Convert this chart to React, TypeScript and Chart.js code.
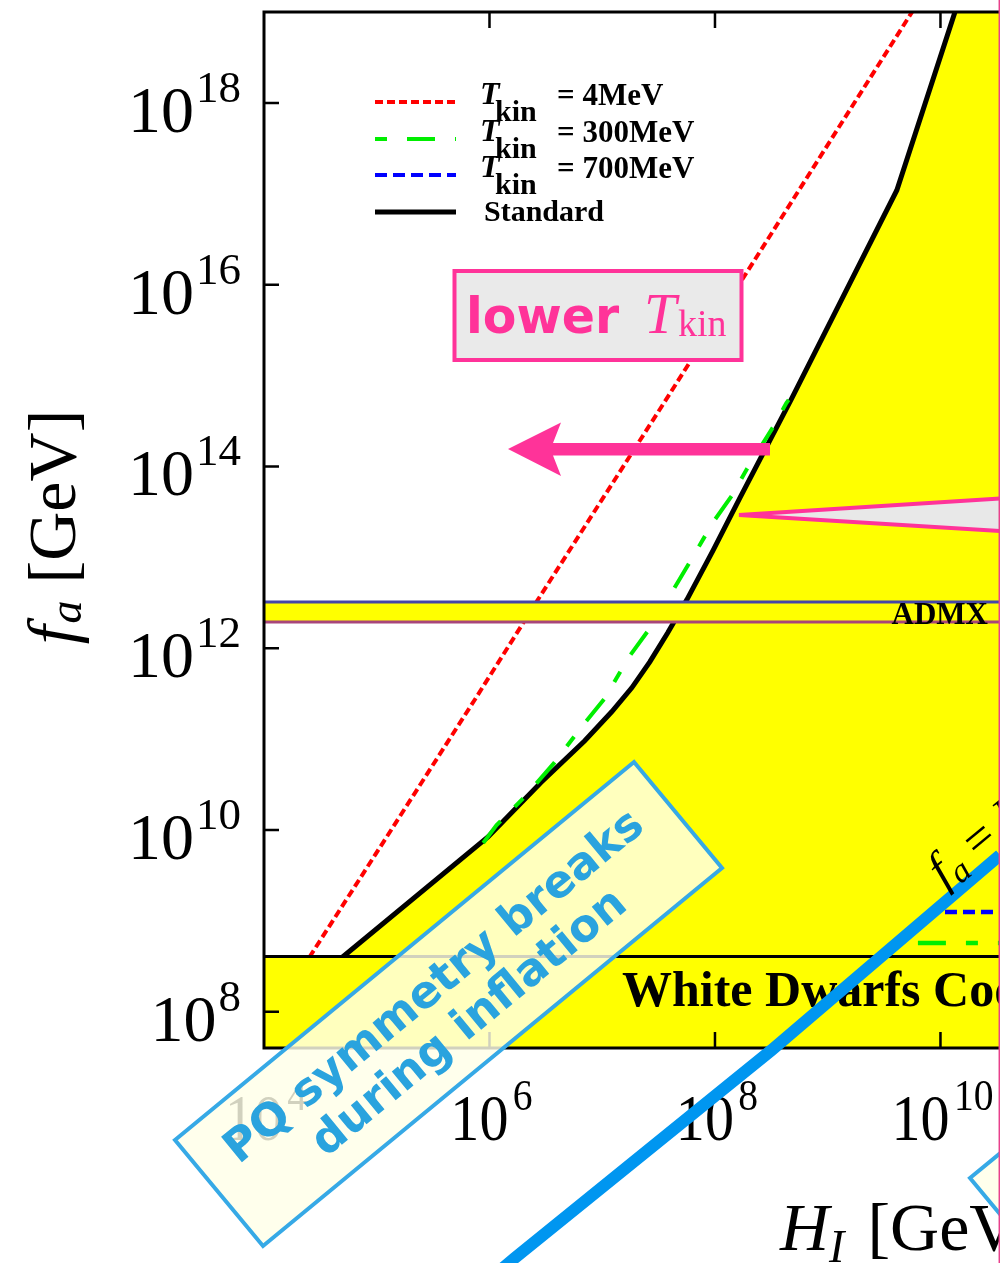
import React, { useEffect, useRef } from "react";
import { Chart, registerables } from "chart.js";

Chart.register(...registerables);

// ---------- data (log10 values) ----------
const xRangeExp = [4, 10.528]; // H_I axis range
const yRangeExp = [7.601, 19.0]; // f_a axis range
const xTickExps = [4, 6, 8, 10];
const yTickExps = [8, 10, 12, 14, 16, 18];

// Standard (black solid) boundary
const standardLogHI = [4.697, 5.989, 6.454, 6.845, 7.084, 7.262, 7.422, 7.581, 7.75, 7.981, 8.22, 8.442, 8.673, 9.613, 10.128, 10.221, 11.0];
const standardLogFa = [8.602, 9.925, 10.519, 10.981, 11.3, 11.564, 11.85, 12.169, 12.532, 13.071, 13.651, 14.179, 14.729, 17.039, 18.998, 19.35, 19.35];

// T_kin = 4 MeV (red dotted)
const red4LogHI = [4.0, 4.404, 5.868, 6.427, 7.563, 9.746, 9.82];
const red4LogFa = [7.82, 8.602, 11.43, 12.529, 14.729, 18.997, 19.24];

// T_kin = 300 MeV (green dash-dot)
const green300LogHI = [5.944, 6.063, 6.312, 6.574, 6.831, 7.026, 7.231, 7.399, 7.63, 7.772, 7.985, 8.154, 8.278, 8.527, 8.633, 8.67];
const green300LogFa = [9.857, 10.053, 10.364, 10.738, 11.156, 11.453, 11.893, 12.179, 12.641, 12.938, 13.389, 13.686, 13.961, 14.456, 14.698, 14.76];
// right-hand horizontal pieces
const green300RightLogHI = [9.8, 10.7];
const green300RightLogFa = [8.756, 8.756];
const blue700RightLogHI = [10.04, 10.7];
const blue700RightLogFa = [9.097, 9.097];

// f_a = H_I / 2pi line
const faLineLogHI = [6.1, 6.223, 8.5, 10.528, 11.0];
const faLineLogFa = [5.16, 5.29, 7.576, 9.724, 10.2];

// bands
const admxUpperExp = 12.507;
const admxLowerExp = 12.287;
const wdUpperExp = 8.607;

const legendLabels = ["4MeV", "300MeV", "700MeV"];
const WD_LABEL = "White Dwarfs Cooling";
const ADMX_LABEL = "ADMX";
const pqLines = ["PQ symmetry breaks", "during inflation"];

// ---------- styling ----------
const SERIF = '"Liberation Serif", "Times New Roman", Times, serif';
const SANS = '"DejaVu Sans", Verdana, sans-serif';
const PINK = "#FF3399";
const YELLOW = "#FFFF00";
const PQ_BLUE = "#36A9E6";
const PQ_TEXT = "#2AA3DE";
const RED_DASH = [8, 4];
const GREEN_DASH = [28, 20, 12, 20];
const BLUE_DASH = [12, 6];

const pts = (xs: number[], ys: number[]) => xs.map((e, i) => ({ x: Math.pow(10, e), y: Math.pow(10, ys[i]) }));

type Run = { t: string; font: string; dy?: number; gap?: number };

function runsWidth(ctx: CanvasRenderingContext2D, runs: Run[]) {
  let w = 0;
  for (const r of runs) {
    ctx.font = r.font;
    w += ctx.measureText(r.t).width + (r.gap || 0);
  }
  return w;
}

function drawRuns(ctx: CanvasRenderingContext2D, runs: Run[], x: number, y: number, color: string) {
  let cx = x;
  ctx.fillStyle = color;
  ctx.textAlign = "left";
  ctx.textBaseline = "alphabetic";
  for (const r of runs) {
    ctx.font = r.font;
    cx += r.gap || 0;
    ctx.fillText(r.t, cx, y + (r.dy || 0));
    cx += ctx.measureText(r.t).width;
  }
}

function drawBase(chart: any) {
  const { ctx, chartArea: ca, scales } = chart;
  const xs = scales.x;
  const ys = scales.y;
  ctx.save();

  // band labels
  ctx.fillStyle = "#000";
  ctx.textBaseline = "alphabetic";
  ctx.textAlign = "left";
  ctx.font = `bold 50px ${SERIF}`;
  ctx.fillText(WD_LABEL, 622, 1006);
  ctx.textAlign = "right";
  ctx.font = `bold 31px ${SERIF}`;
  ctx.fillText(ADMX_LABEL, 988, 624);
  ctx.textAlign = "left";

  // frame
  ctx.strokeStyle = "#000";
  ctx.lineWidth = 3;
  ctx.beginPath();
  ctx.moveTo(ca.left, ca.top);
  ctx.lineTo(1000, ca.top);
  ctx.moveTo(ca.left, ca.bottom);
  ctx.lineTo(1000, ca.bottom);
  ctx.moveTo(ca.left, ca.top - 1.5);
  ctx.lineTo(ca.left, ca.bottom + 1.5);
  ctx.stroke();

  // inward ticks
  ctx.lineWidth = 2.5;
  ctx.beginPath();
  for (const e of yTickExps) {
    const py = ys.getPixelForValue(Math.pow(10, e));
    ctx.moveTo(ca.left, py);
    ctx.lineTo(ca.left + 15, py);
  }
  for (const e of xTickExps) {
    const px = xs.getPixelForValue(Math.pow(10, e));
    if (px <= ca.left + 2) continue;
    ctx.moveTo(px, ca.top);
    ctx.lineTo(px, ca.top + 16);
    ctx.moveTo(px, ca.bottom);
    ctx.lineTo(px, ca.bottom - 16);
  }
  ctx.stroke();

  // y tick labels
  for (const e of yTickExps) {
    const py = ys.getPixelForValue(Math.pow(10, e));
    const runs: Run[] = [
      { t: "10", font: `66px ${SERIF}` },
      { t: String(e), font: `45px ${SERIF}`, dy: -30, gap: 2 },
    ];
    const w = runsWidth(ctx, runs);
    drawRuns(ctx, runs, 241 - w, py + 29, "#000");
  }
  // x tick labels
  for (const e of xTickExps) {
    const px = xs.getPixelForValue(Math.pow(10, e));
    ctx.save();
    ctx.translate(px + 2, 1140);
    ctx.scale(0.88, 1);
    const runs: Run[] = [
      { t: "10", font: `66px ${SERIF}` },
      { t: String(e), font: `45px ${SERIF}`, dy: -30, gap: 5 },
    ];
    const w = runsWidth(ctx, runs);
    drawRuns(ctx, runs, -w / 2, 0, "#000");
    ctx.restore();
  }

  // axis titles
  ctx.save();
  ctx.translate(75, 527);
  ctx.rotate(-Math.PI / 2);
  const yTitle: Run[] = [
    { t: "f", font: `italic 68px ${SERIF}` },
    { t: "a", font: `italic 46px ${SERIF}`, dy: 6, gap: 2 },
    { t: " [GeV]", font: `68px ${SERIF}` },
  ];
  drawRuns(ctx, yTitle, -runsWidth(ctx, yTitle) / 2, 0, "#000");
  ctx.restore();

  const xTitle: Run[] = [
    { t: "H", font: `italic 68px ${SERIF}` },
    { t: "I", font: `italic 46px ${SERIF}`, dy: 12 },
    { t: " [GeV]", font: `68px ${SERIF}`, gap: 6 },
  ];
  drawRuns(ctx, xTitle, 780, 1250, "#000");

  // legend
  const legendY = [102, 139, 175, 212];
  const sx0 = 375;
  const sx1 = 456;
  const styles = [
    { c: "#FF0000", d: RED_DASH, off: 0, w: 4 },
    { c: "#00EE00", d: GREEN_DASH, off: 48, w: 4 },
    { c: "#0000FF", d: BLUE_DASH, off: 0, w: 4 },
    { c: "#000000", d: [], off: 0, w: 5 },
  ];
  styles.forEach((s, i) => {
    ctx.strokeStyle = s.c;
    ctx.lineWidth = s.w;
    ctx.setLineDash(s.d);
    ctx.lineDashOffset = s.off;
    ctx.beginPath();
    ctx.moveTo(sx0, legendY[i]);
    ctx.lineTo(sx1, legendY[i]);
    ctx.stroke();
  });
  ctx.setLineDash([]);
  ctx.lineDashOffset = 0;
  const rowBase = [105, 141.7, 178.3];
  legendLabels.forEach((lab, i) => {
    const b = rowBase[i];
    ctx.fillStyle = "#000";
    ctx.font = `italic bold 32px ${SERIF}`;
    ctx.fillText("T", 480, b - 1);
    ctx.font = `bold 30px ${SERIF}`;
    ctx.fillText("kin", 495, b + 16);
    ctx.font = `bold 31px ${SERIF}`;
    ctx.fillText("= " + lab, 557, b);
  });
  ctx.font = `bold 30px ${SERIF}`;
  ctx.fillText("Standard", 484, 221);

  // "lower T_kin" box
  ctx.fillStyle = "#EAEAEA";
  ctx.fillRect(454.5, 271, 287, 89);
  ctx.strokeStyle = PINK;
  ctx.lineWidth = 4;
  ctx.strokeRect(454.5, 271, 287, 89);
  ctx.fillStyle = PINK;
  ctx.font = `bold 49px ${SANS}`;
  ctx.fillText("lower", 466, 333);
  ctx.font = `italic 58px ${SERIF}`;
  ctx.fillText("T", 644, 333);
  ctx.font = `38px ${SERIF}`;
  ctx.fillText("kin", 678, 336);

  // arrow
  ctx.fillStyle = PINK;
  ctx.beginPath();
  ctx.moveTo(508, 449);
  ctx.lineTo(561, 422.5);
  ctx.lineTo(553, 443);
  ctx.lineTo(770, 443);
  ctx.lineTo(770, 455.5);
  ctx.lineTo(553, 455.5);
  ctx.lineTo(561, 476);
  ctx.closePath();
  ctx.fill();

  // callout wedge
  ctx.beginPath();
  ctx.moveTo(739, 515);
  ctx.lineTo(1010, 497.9);
  ctx.lineTo(1010, 531.6);
  ctx.closePath();
  ctx.fillStyle = "#E8E8E8";
  ctx.fill();
  ctx.lineJoin = "bevel";
  ctx.strokeStyle = PINK;
  ctx.lineWidth = 4;
  ctx.stroke();

  ctx.restore();
}

function rotatedBox(ctx: CanvasRenderingContext2D, corner: number[], along: number[], across: number[]) {
  ctx.beginPath();
  ctx.moveTo(corner[0], corner[1]);
  ctx.lineTo(corner[0] + along[0], corner[1] + along[1]);
  ctx.lineTo(corner[0] + along[0] + across[0], corner[1] + along[1] + across[1]);
  ctx.lineTo(corner[0] + across[0], corner[1] + across[1]);
  ctx.closePath();
  ctx.fillStyle = "rgba(255,255,232,0.82)";
  ctx.fill();
  ctx.strokeStyle = PQ_BLUE;
  ctx.lineWidth = 4;
  ctx.lineJoin = "miter";
  ctx.stroke();
}

function drawTop(chart: any) {
  const { ctx, scales } = chart;
  const xs = scales.x;
  const ys = scales.y;
  ctx.save();

  // PQ box
  const along = [459, -378];
  const across = [88, 106];
  rotatedBox(ctx, [175, 1140], along, across);
  const ang = Math.atan2(along[1], along[0]);
  const L = Math.hypot(along[0], along[1]);
  const S = Math.hypot(across[0], across[1]);
  const cx = 175 + along[0] / 2 + across[0] / 2;
  const cy = 1140 + along[1] / 2 + across[1] / 2;
  const n = [across[0] / S, across[1] / S];
  const u = [along[0] / L, along[1] / L];
  const offs = [-21, 29];
  const shift = [0, 4];
  ctx.fillStyle = PQ_TEXT;
  ctx.font = `bold 45px ${SANS}`;
  ctx.textAlign = "center";
  ctx.textBaseline = "middle";
  pqLines.forEach((line, i) => {
    ctx.save();
    ctx.translate(cx + n[0] * offs[i] + u[0] * shift[i], cy + n[1] * offs[i] + u[1] * shift[i]);
    ctx.rotate(ang);
    ctx.fillText(line, 0, 0);
    ctx.restore();
  });

  // second box (bottom right, mostly outside)
  rotatedBox(ctx, [970, 1178], along, across);

  // f_a = H_I / 2pi label along the blue line
  const p1x = xs.getPixelForValue(Math.pow(10, faLineLogHI[1]));
  const p1y = ys.getPixelForValue(Math.pow(10, faLineLogFa[1]));
  const p2x = xs.getPixelForValue(Math.pow(10, faLineLogHI[3]));
  const p2y = ys.getPixelForValue(Math.pow(10, faLineLogFa[3]));
  const a2 = Math.atan2(p2y - p1y, p2x - p1x);
  ctx.save();
  ctx.translate(944, 888);
  ctx.rotate(a2);
  const fr: Run[] = [
    { t: "f", font: `italic 50px ${SERIF}` },
    { t: "a", font: `italic 34px ${SERIF}`, dy: 8, gap: 1 },
    { t: " = ", font: `50px ${SERIF}` },
    { t: "H", font: `italic 50px ${SERIF}` },
    { t: "I", font: `italic 34px ${SERIF}`, dy: 8 },
    { t: "/2\u03C0", font: `50px ${SERIF}` },
  ];
  drawRuns(ctx, fr, 0, 0, "#000");
  ctx.restore();

  // pink edge line at right border
  ctx.strokeStyle = "#E8408C";
  ctx.lineWidth = 1.5;
  ctx.beginPath();
  ctx.moveTo(999.3, 0);
  ctx.lineTo(999.3, 1263);
  ctx.stroke();

  ctx.restore();
}

const overlayPlugin = {
  id: "overlay",
  afterDatasetDraw(chart: any, args: any) {
    if (chart.data.datasets[args.index].label !== WD_LABEL) return;
    drawBase(chart);
  },
  afterDatasetsDraw(chart: any) {
    drawTop(chart);
  },
};

export default function App() {
  const ref = useRef<HTMLCanvasElement>(null);
  useEffect(() => {
    const canvas = ref.current;
    if (!canvas) return;
    const chart = new Chart(canvas, {
      type: "scatter",
      data: {
        datasets: [
          {
            label: "Standard",
            data: pts(standardLogHI, standardLogFa),
            showLine: true,
            borderColor: "#000",
            borderWidth: 5,
            backgroundColor: YELLOW,
            fill: "start",
            order: 10,
          },
          {
            label: "T_kin = 4MeV",
            data: pts(red4LogHI, red4LogFa),
            showLine: true,
            borderColor: "#FF0000",
            borderWidth: 4,
            borderDash: RED_DASH,
            fill: false,
            order: 9,
          },
          {
            label: "T_kin = 300MeV",
            data: pts(green300LogHI, green300LogFa),
            showLine: true,
            borderColor: "#00EE00",
            borderWidth: 4,
            borderDash: GREEN_DASH,
            fill: false,
            order: 8,
          },
          {
            label: "T_kin = 300MeV (high H_I)",
            data: pts(green300RightLogHI, green300RightLogFa),
            showLine: true,
            borderColor: "#00EE00",
            borderWidth: 4.5,
            borderDash: GREEN_DASH,
            fill: false,
            order: 8,
          },
          {
            label: "T_kin = 700MeV (high H_I)",
            data: pts(blue700RightLogHI, blue700RightLogFa),
            showLine: true,
            borderColor: "#0000FF",
            borderWidth: 4.5,
            borderDash: BLUE_DASH,
            fill: false,
            order: 8,
          },
          {
            label: "ADMX upper",
            data: pts([xRangeExp[0] - 1, xRangeExp[1] + 1], [admxUpperExp, admxUpperExp]),
            showLine: true,
            borderColor: "#4646A8",
            borderWidth: 3,
            backgroundColor: YELLOW,
            fill: { value: Math.pow(10, admxLowerExp) },
            order: 7,
          },
          {
            label: "ADMX lower",
            data: pts([xRangeExp[0] - 1, xRangeExp[1] + 1], [admxLowerExp, admxLowerExp]),
            showLine: true,
            borderColor: "#A8467A",
            borderWidth: 3,
            fill: false,
            order: 6.9,
          },
          {
            label: WD_LABEL,
            data: pts([xRangeExp[0] - 1, xRangeExp[1] + 1], [wdUpperExp, wdUpperExp]),
            showLine: true,
            borderColor: "#000",
            borderWidth: 3,
            backgroundColor: YELLOW,
            fill: "start",
            order: 6,
          },
          {
            label: "f_a = H_I/2pi",
            data: pts(faLineLogHI, faLineLogFa),
            showLine: true,
            borderColor: "#0096F0",
            borderWidth: 12,
            fill: false,
            clip: false,
            order: 1,
          },
        ],
      },
      options: {
        animation: false,
        responsive: false,
        devicePixelRatio: 1,
        layout: { padding: { left: 264, top: 12, right: 0, bottom: 215 } },
        elements: { point: { radius: 0, hoverRadius: 0 }, line: { tension: 0 } },
        scales: {
          x: { type: "logarithmic", min: Math.pow(10, xRangeExp[0]), max: Math.pow(10, xRangeExp[1]), display: false },
          y: { type: "logarithmic", min: Math.pow(10, yRangeExp[0]), max: Math.pow(10, yRangeExp[1]), display: false },
        },
        plugins: { legend: { display: false }, tooltip: { enabled: false } },
        events: [],
      },
      plugins: [overlayPlugin],
    } as any);
    return () => chart.destroy();
  }, []);

  return (
    <div style={{ position: "absolute", left: 0, top: 0, width: 1000, height: 1263, background: "#fff" }}>
      <canvas ref={ref} width={1000} height={1263} style={{ display: "block", width: 1000, height: 1263 }} />
    </div>
  );
}
